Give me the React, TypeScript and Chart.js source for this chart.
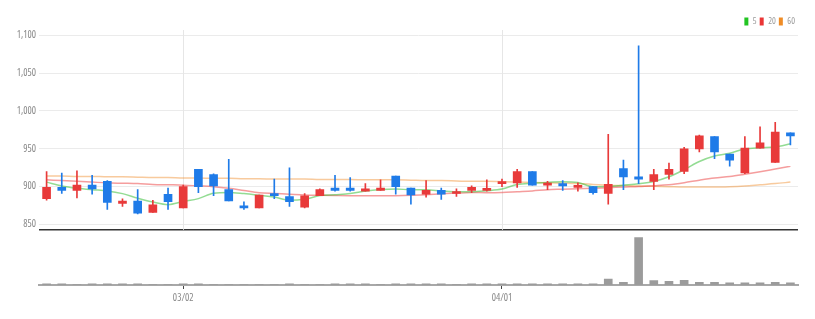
import React, { useEffect, useRef } from 'react';
import { Chart, registerables } from 'chart.js';

Chart.register(...registerables);

// ---- data ----
const dates = [
  '02/16', '02/17', '02/18', '02/21', '02/22', '02/23', '02/24', '02/25', '02/28',
  '03/02', '03/03', '03/04', '03/07', '03/08', '03/10', '03/11', '03/14', '03/15', '03/16', '03/17',
  '03/18', '03/21', '03/22', '03/23', '03/24', '03/25', '03/28', '03/29', '03/30', '03/31',
  '04/01', '04/04', '04/05', '04/06', '04/07', '04/08', '04/11', '04/12', '04/13', '04/14',
  '04/15', '04/18', '04/19', '04/20', '04/21', '04/22', '04/25', '04/26', '04/27', '04/28',
];
const shownDates = ['03/02', '04/01'];

const opens = [884, 899, 895, 902, 907, 878, 881, 866, 890, 872, 923, 916, 896, 874, 872, 891, 887, 873, 888, 898,
  898, 894, 895, 914, 898, 890, 895, 891, 895, 895, 904, 905, 920, 902, 904, 899, 900, 891, 924, 913,
  907, 916, 920, 950, 966, 943, 918, 951, 932, 971];
const highs = [920, 918, 921, 915, 908, 884, 896, 882, 898, 902, 923, 917, 936, 880, 889, 910, 925, 891, 897, 915,
  912, 904, 909, 914, 898, 908, 898, 897, 901, 909, 910, 923, 920, 907, 908, 905, 900, 969, 935, 1086,
  923, 931, 952, 968, 966, 943, 966, 979, 985, 971];
const lows = [882, 891, 885, 890, 870, 874, 864, 866, 870, 872, 892, 888, 881, 870, 872, 884, 874, 872, 888, 894,
  894, 894, 895, 890, 877, 886, 883, 887, 892, 894, 900, 899, 902, 896, 895, 894, 890, 877, 896, 904,
  896, 910, 917, 946, 937, 927, 917, 951, 932, 955];
const closes = [899, 895, 902, 897, 879, 881, 865, 876, 880, 900, 900, 901, 881, 872, 889, 888, 880, 888, 896, 895,
  895, 897, 898, 900, 889, 895, 890, 893, 899, 896, 906, 920, 902, 904, 901, 901, 892, 903, 913, 910,
  916, 923, 950, 967, 946, 935, 951, 958, 972, 967];

const ma5 = [906, 901, 898, 896, 894.4, 890.8, 884.8, 879.6, 876.2, 880.4, 884.2, 891.4, 892.4, 890.8, 888.6, 886.2, 882, 883.4, 888.2, 889.4,
  890.8, 894.2, 896.2, 897, 895.8, 895.8, 894.4, 893.4, 893.2, 894.6, 896.8, 902.8, 904.6, 905.6, 906.6, 905.6, 900, 900.2, 902, 903.8,
  906.8, 913, 922.4, 933.2, 940.4, 944.2, 949.8, 951.4, 952.4, 956.6];
const ma20 = [909, 908, 907, 906, 905, 904.5, 904, 903, 902.5, 902, 901, 900, 898, 895, 892, 891, 890, 889, 888.5, 888.2,
  888, 888.1, 887.9, 888.1, 888.6, 889.3, 890.5, 891.4, 892.3, 892.1, 892.4, 893.4, 894.4, 896, 896.6, 897.3, 897.9, 898.6, 899.5, 900.2,
  901.3, 902.6, 905.2, 908.5, 911.4, 913.4, 916.4, 919.7, 923.3, 926.9];
const ma60 = [914, 914, 913.5, 913.5, 913, 913, 912.5, 912, 912, 911.5, 911.5, 911, 911, 910.5, 910.5, 910, 910, 910, 909.5, 909.5,
  909.5, 909, 909, 909, 908.5, 908, 908, 907.5, 907, 907, 906.5, 906, 905.5, 905, 904.5, 904, 903, 902, 901.5, 901,
  900.5, 900, 899.5, 899.5, 899.5, 900, 901, 902.5, 904, 906];

const volumes = [24, 26, 8, 25, 27, 24, 26, 7, 9, 25, 24, 8, 9, 7, 8, 9, 25, 8, 7, 24,
  26, 25, 8, 24, 26, 25, 24, 8, 25, 24, 26, 25, 24, 25, 26, 24, 25, 130, 60, 1030,
  95, 80, 100, 57, 57, 45, 45, 45, 57, 45];

const priceTicks = { min: 843, max: 1107, step: 50 };
const volumeMax = 1200;

// ---- styles ----
const FONT_FAMILY = "'Open Sans', 'Liberation Sans', sans-serif";
const FONT_STRETCH = 'condensed';
const UP = '#e83a3a';
const DOWN = '#1f7be8';
const MA_LINES = [
  { label: '5', data: ma5, solid: '#22c422', line: 'rgba(40,185,40,0.5)' },
  { label: '20', data: ma20, solid: '#ea3535', line: 'rgba(236,60,60,0.5)' },
  { label: '60', data: ma60, solid: '#ef8c26', line: 'rgba(242,150,60,0.5)' },
];

const candleColor = (ctx: any) => {
  const i = ctx.dataIndex;
  return closes[i] >= opens[i] ? UP : DOWN;
};

const priceVGrid = {
  id: 'priceVGrid',
  beforeDatasetsDraw(chart: any) {
    const { ctx, scales } = chart;
    const x = scales.x;
    const y = scales.y;
    ctx.save();
    ctx.strokeStyle = '#e6e6e6';
    ctx.lineWidth = 1;
    x.ticks.forEach((_t: any, i: number) => {
      const px = Math.round(x.getPixelForTick(i)) + 0.5;
      ctx.beginPath();
      ctx.moveTo(px, y.top);
      ctx.lineTo(px, y.bottom);
      ctx.stroke();
    });
    ctx.restore();
  },
};

export default function App() {
  const ref = useRef<HTMLCanvasElement>(null);

  useEffect(() => {
    const maSets = MA_LINES.map((m) => ({
      type: 'line' as const,
      label: m.label,
      data: m.data,
      borderColor: m.line,
      backgroundColor: m.solid,
      borderWidth: 1.5,
      pointRadius: 0,
      cubicInterpolationMode: 'monotone' as const,
      yAxisID: 'y',
      order: 5,
    }));

    const chart = new Chart(ref.current!, {
      type: 'bar',
      data: {
        labels: dates,
        datasets: [
          {
            type: 'bar',
            label: 'wick',
            data: lows.map((l, i) => [l, highs[i]]) as any,
            backgroundColor: candleColor,
            barThickness: 1,
            grouped: false,
            yAxisID: 'y',
            order: 2,
          },
          {
            type: 'bar',
            label: 'body',
            data: opens.map((o, i) => [o, closes[i]]) as any,
            backgroundColor: candleColor,
            barThickness: 8,
            minBarLength: 2,
            grouped: false,
            yAxisID: 'y',
            order: 1,
          },
          {
            type: 'bar',
            label: 'volume',
            data: volumes,
            backgroundColor: '#9b9b9b',
            barThickness: 8,
            grouped: false,
            yAxisID: 'yv',
            order: 1,
          },
          ...maSets,
        ] as any,
      },
      options: {
        responsive: false,
        animation: false,
        layout: { padding: { top: 14, right: 17, bottom: 12, left: 0 } },
        plugins: {
          tooltip: { enabled: false },
          legend: {
            position: 'top',
            align: 'end',
            maxHeight: 16,
            labels: {
              boxWidth: 4,
              boxHeight: 8,
              padding: 3,
              color: '#999',
              font: { family: FONT_FAMILY, weight: FONT_STRETCH, size: 9 },
              generateLabels: () =>
                MA_LINES.map((m, i) => ({
                  text: m.label,
                  fillStyle: m.solid,
                  strokeStyle: m.solid,
                  lineWidth: 0,
                  hidden: false,
                  datasetIndex: 3 + i,
                  fontColor: '#999',
                })) as any,
            },
          },
        },
        scales: {
          x: {
            type: 'category',
            offset: true,
            afterBuildTicks: (s: any) => {
              s.ticks = s.ticks.filter((t: any) => shownDates.includes(dates[t.value]));
            },
            grid: {
              display: true,
              offset: false,
              drawOnChartArea: false,
              drawTicks: true,
              tickLength: 4,
              tickColor: '#444',
              tickWidth: 1,
            },
            border: { display: true, color: '#a8a8a8', width: 2 },
            ticks: {
              autoSkip: false,
              maxRotation: 0,
              padding: 3,
              color: '#888',
              font: { family: FONT_FAMILY, weight: FONT_STRETCH, size: 10 },
            },
          },
          yv: {
            type: 'linear',
            position: 'left',
            stack: 'panes',
            stackWeight: 55,
            min: 0,
            max: volumeMax,
            afterBuildTicks: (s: any) => {
              s.ticks = [{ value: s.max }];
            },
            ticks: { display: false },
            grid: { color: '#333', lineWidth: 1.5, drawTicks: false },
            border: { display: false },
          },
          y: {
            type: 'linear',
            position: 'left',
            stack: 'panes',
            stackWeight: 199,
            min: priceTicks.min,
            max: priceTicks.max,
            afterFit: (s: any) => {
              s.width = 39;
            },
            ticks: {
              stepSize: priceTicks.step,
              includeBounds: false,
              padding: 3,
              color: '#888',
              font: { family: FONT_FAMILY, weight: FONT_STRETCH, size: 10 },
            },
            grid: { color: '#ebebeb', lineWidth: 1, drawTicks: false },
            border: { display: false },
          },
        },
      } as any,
      plugins: [priceVGrid],
    });
    return () => chart.destroy();
  }, []);

  return (
    <div style={{ position: 'absolute', left: 0, top: 0, width: 815, height: 319 }}>
      <canvas ref={ref} width={815} height={319} style={{ display: 'block', width: 815, height: 319 }} />
    </div>
  );
}
